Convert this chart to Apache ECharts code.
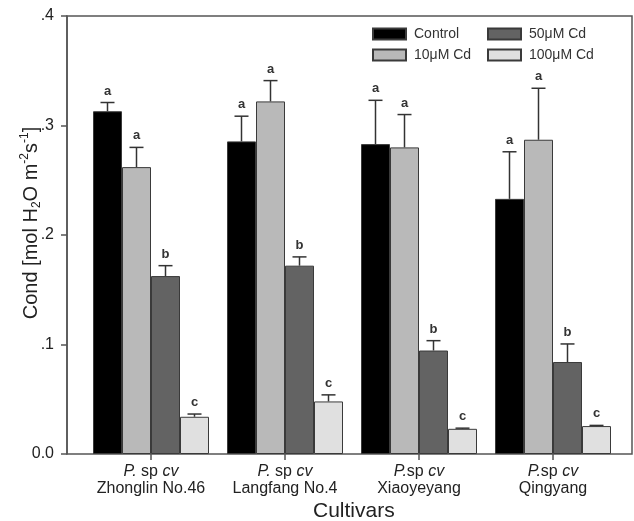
<!DOCTYPE html>
<html><head><meta charset="utf-8">
<script src="https://cdn.jsdelivr.net/npm/echarts@6/dist/echarts.min.js"></script>
<style>html,body{margin:0;padding:0;background:#fff}#c{width:634px;height:521px}</style>
</head><body><div id="c"></div><script>
const cultivars = ['Zhonglin No.46', 'Langfang No.4', 'Xiaoyeyang', 'Qingyang'];
const prefixSep = [' ', ' ', '', ''];
const seriesNames = ['Control', '10μM Cd', '50μM Cd', '100μM Cd'];
const control = [0.313, 0.2855, 0.283, 0.233];
const cd10 = [0.262, 0.322, 0.280, 0.287];
const cd50 = [0.1625, 0.172, 0.0945, 0.084];
const cd100 = [0.034, 0.048, 0.023, 0.0255];
const errControl = [0.008, 0.023, 0.040, 0.043];
const errCd10 = [0.018, 0.019, 0.030, 0.047];
const errCd50 = [0.0095, 0.008, 0.009, 0.0165];
const errCd100 = [0.0025, 0.006, 0.0006, 0.0006];
const letControl = ['a', 'a', 'a', 'a'];
const letCd10 = ['a', 'a', 'a', 'a'];
const letCd50 = ['b', 'b', 'b', 'b'];
const letCd100 = ['c', 'c', 'c', 'c'];
const yTickLabels = ['0.0', '.1', '.2', '.3', '.4'];

const values = [control, cd10, cd50, cd100];
const errors = [errControl, errCd10, errCd50, errCd100];
const letters = [letControl, letCd10, letCd50, letCd100];
const colors = ['#000000', '#b9b9b9', '#636363', '#e0e0e0'];
const BAR_W = 29;
const FONT = 'Liberation Sans, Arial, sans-serif';

const chart = echarts.init(document.getElementById('c'), null, {renderer: 'canvas'});

const barSeries = values.map((vals, k) => ({
  name: seriesNames[k], type: 'bar', xAxisIndex: 1, yAxisIndex: 1,
  data: vals, barWidth: BAR_W, barGap: '0%',
  itemStyle: {color: colors[k], borderColor: '#3a3a3a', borderWidth: 1},
  emphasis: {disabled: true}, z: 2
}));

const errSeries = values.map((vals, k) => ({
  name: seriesNames[k] + ' err', type: 'custom', xAxisIndex: 1, yAxisIndex: 1,
  data: vals.map((v, i) => [i, v, errors[k][i]]),
  z: 3, silent: true,
  renderItem: function (params, api) {
    const ci = api.value(0), v = api.value(1), e = api.value(2);
    const off = (k - 1.5) * BAR_W;
    const b = api.coord([ci, v]);
    const t = api.coord([ci, v + e]);
    const x = b[0] + off;
    return {
      type: 'group', children: [
        {type: 'line', shape: {x1: x, y1: b[1], x2: x, y2: t[1]}, style: {stroke: '#333', lineWidth: 1.5}},
        {type: 'line', shape: {x1: x - 7, y1: t[1], x2: x + 7, y2: t[1]}, style: {stroke: '#333', lineWidth: 1.5}},
        {type: 'text', x: x, y: t[1] - 5, style: {text: letters[k][params.dataIndex], textAlign: 'center', textVerticalAlign: 'bottom', font: 'bold 13px ' + FONT, fill: '#333'}}
      ]
    };
  }
}));

const option = {
  animation: false,
  backgroundColor: '#fff',
  textStyle: {fontFamily: FONT},
  grid: [
    {left: 67, right: 2, top: 16, bottom: 67, show: true, borderColor: '#555', borderWidth: 1.5, backgroundColor: 'transparent'},
    {left: 84, right: 14, top: 16, bottom: 67}
  ],
  legend: [
    {data: [seriesNames[0], seriesNames[1]], orient: 'vertical', left: 372, top: 27, padding: 0, itemWidth: 33, itemHeight: 11, itemGap: 7, icon: 'rect',
     textStyle: {fontSize: 14, color: '#333', fontFamily: FONT, padding: [0, 0, 0, 3]}, selectedMode: false},
    {data: [seriesNames[2], seriesNames[3]], orient: 'vertical', left: 487, top: 27, padding: 0, itemWidth: 33, itemHeight: 11, itemGap: 7, icon: 'rect',
     textStyle: {fontSize: 14, color: '#333', fontFamily: FONT, padding: [0, 0, 0, 3]}, selectedMode: false}
  ],
  xAxis: [
    {type: 'value', gridIndex: 0, show: false, min: 0, max: 1},
    {type: 'category', gridIndex: 1, data: cultivars,
     axisLine: {show: false},
     axisTick: {show: true, alignWithLabel: true, length: 6, lineStyle: {color: '#555', width: 1.5}},
     axisLabel: {
       margin: 9, interval: 0,
       formatter: function (val, idx) {
         return '{i|P.}{n|' + prefixSep[idx] + 'sp }{i|cv}\n{n|' + val + '}';
       },
       rich: {
         i: {fontStyle: 'italic', fontSize: 16, color: '#222', fontFamily: FONT, lineHeight: 17},
         n: {fontSize: 16, color: '#222', fontFamily: FONT, lineHeight: 17}
       }
     }
    }
  ],
  yAxis: [
    {type: 'value', gridIndex: 0, min: 0, max: 0.4, interval: 0.1,
     splitLine: {show: false},
     axisLine: {show: true, lineStyle: {color: '#555', width: 1.5}},
     axisTick: {show: true, inside: false, length: 6, lineStyle: {color: '#555', width: 1.5}},
     axisLabel: {margin: 13, fontSize: 16, color: '#222', fontFamily: FONT,
       formatter: function (v) { return yTickLabels[Math.round(v * 10)]; }}
    },
    {type: 'value', gridIndex: 1, min: 0, max: 0.4, show: false}
  ],
  graphic: [
    {type: 'text', left: 313, top: 501, style: {text: 'Cultivars', font: '21px ' + FONT, fill: '#222'}},
    {type: 'text', x: 31, y: 223, rotation: Math.PI / 2,
     style: {
       text: '{m|Cond [mol H}{sub|2}{m|O m}{sup|-2}{m|s}{sup|-1}{m|]}',
       align: 'center', verticalAlign: 'middle',
       rich: {
         m: {font: '20px ' + FONT, fill: '#222', lineHeight: 24, verticalAlign: 'middle'},
         sub: {font: '12px ' + FONT, fill: '#222', lineHeight: 24, verticalAlign: 'bottom', padding: [8, 0, 0, 0]},
         sup: {font: '12px ' + FONT, fill: '#222', lineHeight: 24, verticalAlign: 'top', padding: [0, 0, 8, 0]}
       }
     }}
  ],
  series: barSeries.concat(errSeries)
};
chart.setOption(option);
</script></body></html>
